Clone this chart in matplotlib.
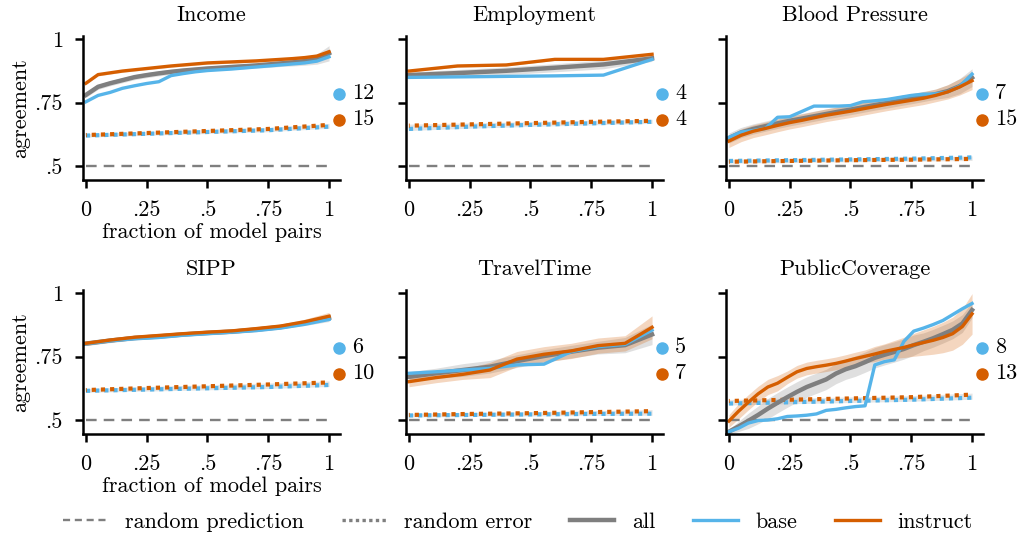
import numpy as np
import matplotlib.pyplot as plt

plt.rcParams['font.family'] = ['cmr10', 'DejaVu Serif']
plt.rcParams['mathtext.fontset'] = 'cm'
plt.rcParams['axes.unicode_minus'] = False
plt.rcParams['axes.formatter.use_mathtext'] = True

blue = '#56B4E9'
orange = '#D55E00'
gray = '#7f7f7f'

titles = ['Income', 'Employment', 'Blood Pressure', 'SIPP', 'TravelTime', 'PublicCoverage']
n_base = [12, 4, 7, 6, 5, 8]
n_instruct = [15, 4, 15, 10, 7, 13]

# Income
income_base = [0.753, 0.778, 0.790, 0.806, 0.816, 0.825, 0.832, 0.856, 0.864, 0.871, 0.876,
               0.879, 0.882, 0.886, 0.890, 0.894, 0.898, 0.902, 0.906, 0.913, 0.930]
income_all = [0.780, 0.812, 0.826, 0.838, 0.850, 0.858, 0.865, 0.871, 0.876, 0.880, 0.884,
              0.887, 0.890, 0.893, 0.896, 0.900, 0.904, 0.908, 0.913, 0.921, 0.944]
income_instruct = [0.826, 0.860, 0.867, 0.874, 0.879, 0.884, 0.889, 0.894, 0.898, 0.902, 0.906,
                   0.908, 0.910, 0.912, 0.914, 0.917, 0.920, 0.923, 0.927, 0.933, 0.950]
income_all_band = [0.01, 0.01, 0.01, 0.01, 0.01, 0.01, 0.01, 0.01, 0.01, 0.01, 0.01,
                   0.01, 0.01, 0.01, 0.01, 0.012, 0.012, 0.014, 0.016, 0.02, 0.03]
income_instruct_band = [0.005] * 20 + [0.01]
income_err_base = [0.620, 0.627, 0.634, 0.641, 0.655]
income_err_instruct = [0.622, 0.630, 0.638, 0.646, 0.662]

# Employment
employment_base = [0.849, 0.851, 0.853, 0.855, 0.858, 0.920]
employment_all = [0.858, 0.866, 0.875, 0.887, 0.900, 0.924]
employment_instruct = [0.874, 0.894, 0.898, 0.920, 0.920, 0.940]
employment_all_band = [0.012, 0.014, 0.015, 0.016, 0.017, 0.012]
employment_instruct_band = [0.004, 0.004, 0.004, 0.004, 0.004, 0.004]
employment_err_base = [0.646, 0.655, 0.662, 0.668, 0.674]
employment_err_instruct = [0.659, 0.664, 0.669, 0.674, 0.678]

# Blood Pressure
bp_base = [0.613, 0.634, 0.640, 0.648, 0.692, 0.694, 0.715, 0.736, 0.736, 0.736, 0.738,
           0.753, 0.757, 0.762, 0.770, 0.778, 0.783, 0.784, 0.792, 0.815, 0.862]
bp_all = [0.610, 0.632, 0.646, 0.657, 0.668, 0.678, 0.687, 0.696, 0.705, 0.714, 0.722,
          0.731, 0.740, 0.748, 0.757, 0.765, 0.774, 0.783, 0.795, 0.815, 0.848]
bp_instruct = [0.598, 0.621, 0.637, 0.648, 0.660, 0.671, 0.680, 0.690, 0.700, 0.708, 0.716,
               0.725, 0.734, 0.743, 0.751, 0.759, 0.767, 0.778, 0.792, 0.812, 0.836]
bp_all_band = [0.02] * 18 + [0.025, 0.03, 0.035]
bp_instruct_band = [0.025] * 18 + [0.028, 0.032, 0.035]
bp_err_base = [0.520, 0.523, 0.526, 0.529, 0.534]
bp_err_instruct = [0.517, 0.520, 0.523, 0.525, 0.528]

# SIPP
sipp_base = [0.800, 0.812, 0.820, 0.825, 0.834, 0.840, 0.846, 0.852, 0.862, 0.877, 0.896]
sipp_all = [0.801, 0.813, 0.823, 0.829, 0.837, 0.843, 0.848, 0.856, 0.866, 0.882, 0.902]
sipp_instruct = [0.802, 0.815, 0.826, 0.833, 0.840, 0.846, 0.851, 0.860, 0.870, 0.887, 0.909]
sipp_all_band = [0.008] * 9 + [0.01, 0.014]
sipp_instruct_band = [0.008] * 9 + [0.01, 0.015]
sipp_err_base = [0.615, 0.620, 0.625, 0.630, 0.638]
sipp_err_instruct = [0.618, 0.626, 0.633, 0.640, 0.648]

# TravelTime
travel_base = [0.684, 0.690, 0.697, 0.703, 0.717, 0.720, 0.769, 0.789, 0.798, 0.854]
travel_all = [0.670, 0.684, 0.697, 0.710, 0.732, 0.752, 0.769, 0.785, 0.795, 0.837]
travel_instruct = [0.651, 0.667, 0.680, 0.697, 0.740, 0.759, 0.772, 0.793, 0.802, 0.865]
travel_all_band = [0.02, 0.02, 0.025, 0.025, 0.025, 0.025, 0.025, 0.025, 0.03, 0.04]
travel_instruct_band = [0.02, 0.02, 0.02, 0.03, 0.03, 0.03, 0.03, 0.03, 0.03, 0.045]
travel_err_base = [0.518, 0.520, 0.522, 0.524, 0.525]
travel_err_instruct = [0.520, 0.524, 0.527, 0.531, 0.535]

# PublicCoverage
pc_base = [0.454, 0.468, 0.488, 0.498, 0.500, 0.505, 0.514, 0.516, 0.519, 0.524, 0.538, 0.542, 0.548,
           0.553, 0.556, 0.717, 0.730, 0.737, 0.810, 0.850, 0.862, 0.876, 0.892, 0.915, 0.938, 0.959]
pc_all = [0.454, 0.475, 0.497, 0.520, 0.545, 0.568, 0.590, 0.611, 0.630, 0.645, 0.660, 0.683, 0.700,
          0.712, 0.728, 0.745, 0.757, 0.768, 0.780, 0.795, 0.808, 0.822, 0.838, 0.855, 0.880, 0.933]
pc_instruct = [0.496, 0.535, 0.570, 0.603, 0.630, 0.645, 0.668, 0.690, 0.703, 0.710, 0.716, 0.723, 0.732,
               0.742, 0.751, 0.760, 0.770, 0.778, 0.786, 0.796, 0.805, 0.814, 0.825, 0.840, 0.868, 0.918]
pc_all_band = [0.01, 0.02, 0.03, 0.035, 0.04, 0.04, 0.04, 0.04, 0.04, 0.04, 0.04, 0.04, 0.04,
               0.04, 0.04, 0.04, 0.04, 0.04, 0.04, 0.04, 0.035, 0.035, 0.035, 0.035, 0.035, 0.03]
pc_instruct_band = [0.025, 0.03, 0.03, 0.03, 0.03, 0.03, 0.025, 0.025, 0.025, 0.025, 0.025, 0.025, 0.025,
                    0.025, 0.025, 0.03, 0.03, 0.035, 0.04, 0.045, 0.05, 0.055, 0.06, 0.065, 0.07, 0.08]
pc_err_base = [0.565, 0.570, 0.575, 0.580, 0.588]
pc_err_instruct = [0.575, 0.580, 0.585, 0.590, 0.600]

panels = [
    (income_base, income_all, income_instruct, income_all_band, income_instruct_band, income_err_base, income_err_instruct),
    (employment_base, employment_all, employment_instruct, employment_all_band, employment_instruct_band, employment_err_base, employment_err_instruct),
    (bp_base, bp_all, bp_instruct, bp_all_band, bp_instruct_band, bp_err_base, bp_err_instruct),
    (sipp_base, sipp_all, sipp_instruct, sipp_all_band, sipp_instruct_band, sipp_err_base, sipp_err_instruct),
    (travel_base, travel_all, travel_instruct, travel_all_band, travel_instruct_band, travel_err_base, travel_err_instruct),
    (pc_base, pc_all, pc_instruct, pc_all_band, pc_instruct_band, pc_err_base, pc_err_instruct),
]

W, H = 1021, 536
fig = plt.figure(figsize=(W / 100, H / 100), dpi=100)

col_left = [83, 406, 726]
row_bottom = [180, 434]
ax_w, ax_h = 257, 144
fs = 16

for i, (base, allv, inst, band_a, band_i, err_b, err_i) in enumerate(panels):
    r, c = divmod(i, 3)
    ax = fig.add_axes([col_left[c] / W, 1 - row_bottom[r] / H, ax_w / W, ax_h / H])

    xa = np.linspace(0, 1, len(allv))
    xb = np.linspace(0, 1, len(base))
    xi = np.linspace(0, 1, len(inst))
    xe = np.linspace(0, 1, len(err_b))
    allv = np.array(allv); inst = np.array(inst)
    err_b = np.array(err_b); err_i = np.array(err_i)

    # random prediction
    ax.plot([0, 1], [0.5, 0.5], color=gray, lw=1.7, ls=(0, (4.5, 3)))

    # random error
    ax.fill_between(xe, np.minimum(err_b, err_i) - 0.006, np.maximum(err_b, err_i) + 0.006,
                    color='#cccccc', alpha=0.5, lw=0)
    ax.plot(xe, err_b, color=blue, lw=3, ls=(0, (1, 1.2)))
    ax.plot(xe, err_i, color=orange, lw=3, ls=(0.8, (1, 1.2)))

    # agreement curves
    ax.fill_between(xa, allv - np.array(band_a), allv + np.array(band_a), color='#b0b0b0', alpha=0.4, lw=0)
    ax.fill_between(xi, inst - np.array(band_i), inst + np.array(band_i), color=orange, alpha=0.25, lw=0)
    ax.plot(xa, allv, color=gray, lw=3.2)
    ax.plot(xb, base, color=blue, lw=2.4)
    ax.plot(xi, inst, color=orange, lw=2.4)

    # model counts
    tx = ax.get_xaxis_transform()
    ax.plot([1.041], [0.60], 'o', color=blue, ms=8, transform=tx, clip_on=False)
    ax.plot([1.041], [0.42], 'o', color=orange, ms=8, transform=tx, clip_on=False)
    ax.text(1.095, 0.60, str(n_base[i]), transform=tx, fontsize=fs, va='center', ha='left')
    ax.text(1.095, 0.42, str(n_instruct[i]), transform=tx, fontsize=fs, va='center', ha='left')

    ax.set_xlim(-0.012, 1.045)
    ax.set_ylim(0.445, 1.012)
    ax.set_xticks([0, 0.25, 0.5, 0.75, 1])
    ax.set_xticklabels(['0', '.25', '.5', '.75', '1'], fontsize=fs)
    ax.set_yticks([0.5, 0.75, 1])
    if c == 0:
        ax.set_yticklabels(['.5', '.75', '1'], fontsize=fs)
        ax.set_ylabel('agreement', fontsize=fs, labelpad=3)
        ax.set_xlabel('fraction of model pairs', fontsize=fs, labelpad=2)
    else:
        ax.set_yticklabels([])
    ax.set_title(titles[i], fontsize=fs, pad=11)
    for s in ['top', 'right']:
        ax.spines[s].set_visible(False)
    for s in ['left', 'bottom']:
        ax.spines[s].set_linewidth(1.8)
    ax.tick_params(width=1.8, length=6, pad=8.5)

handles = [
    plt.Line2D([], [], color=gray, lw=1.7, ls=(0, (3, 2))),
    plt.Line2D([], [], color=gray, lw=2.4, ls=(0, (1, 1))),
    plt.Line2D([], [], color=gray, lw=3.2),
    plt.Line2D([], [], color=blue, lw=2.4),
    plt.Line2D([], [], color=orange, lw=2.4),
]
labels = ['random prediction', 'random error', 'all', 'base', 'instruct']
fig.legend(handles, labels, loc='center', bbox_to_anchor=(0.507, 14 / H), ncol=5, frameon=False,
           fontsize=fs, handlelength=2.0, columnspacing=1.7, handletextpad=0.8)

fig.savefig('out.png', dpi=100)
